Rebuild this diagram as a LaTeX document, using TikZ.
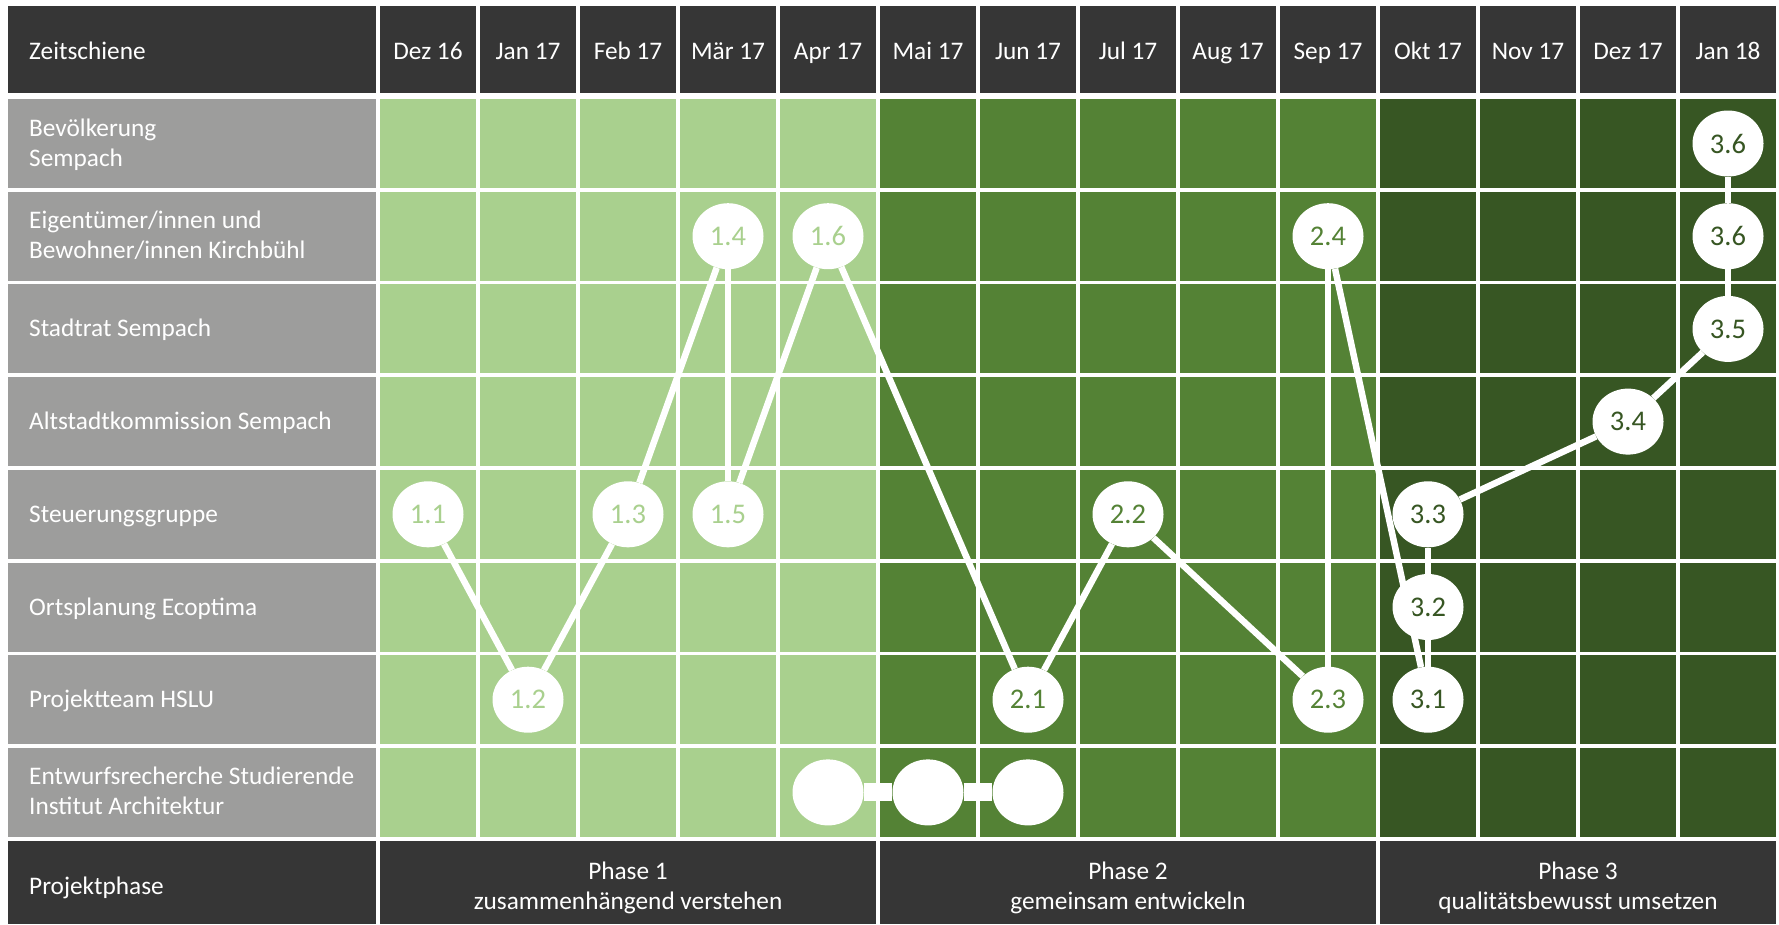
\documentclass[tikz,border=0pt]{standalone}
\usepackage{fontspec}
\setmainfont{Carlito}
\usetikzlibrary{shapes.geometric}
\definecolor{hdr}{HTML}{363636}
\definecolor{lbl}{HTML}{9D9D9C}
\definecolor{gA}{HTML}{A9D08E}
\definecolor{gB}{HTML}{548235}
\definecolor{gC}{HTML}{375623}
\tikzset{
  txt/.style={text=white, inner sep=0pt, anchor=base, font=\fontsize{25.3}{30}\selectfont},
  rowlabel/.style={txt, anchor=base west},
  evt/.style={ellipse, fill=white, minimum width=71pt, minimum height=66pt, inner sep=0pt, font=\fontsize{28.5}{28.5}\selectfont},
  conn/.style={draw=white, line width=6.5pt},
  bar/.style={draw=white, line width=18pt}
}
\begin{document}
\begin{tikzpicture}[x=1pt,y=-1pt]
\useasboundingbox[fill=white] (0,0) rectangle (1779,924);
% header
\fill[hdr] (8,6) rectangle (376,93);
\foreach \i in {0,...,13} \fill[hdr] ({380+100*\i},6) rectangle ({476+100*\i},93);
% rows
\foreach \k in {0,...,7} {
  \fill[lbl] (8,{99+92.7*\k}) rectangle (376,{188+92.7*\k});
  \foreach \i in {0,...,4} \fill[gA] ({380+100*\i},{99+92.7*\k}) rectangle ({476+100*\i},{188+92.7*\k});
  \foreach \i in {5,...,9} \fill[gB] ({380+100*\i},{99+92.7*\k}) rectangle ({476+100*\i},{188+92.7*\k});
  \foreach \i in {10,...,13} \fill[gC] ({380+100*\i},{99+92.7*\k}) rectangle ({476+100*\i},{188+92.7*\k});
}
% phase row
\fill[hdr] (8,841) rectangle (376,924);
\fill[hdr] (380,841) rectangle (876,924);
\fill[hdr] (880,841) rectangle (1376,924);
\fill[hdr] (1380,841) rectangle (1776,924);
% header texts
\node[rowlabel] (zeit) at (29,59) {Zeitschiene};
\foreach \m [count=\j from 0] in {Dez 16,Jan 17,Feb 17,Mär 17,Apr 17,Mai 17,Jun 17,Jul 17,Aug 17,Sep 17,Okt 17,Nov 17,Dez 17,Jan 18}
  \node[txt] (m\j) at ({428+100*\j},59) {\m};
% row labels (single line: baseline = centre + 8; two lines: centre - 7.5 and + 22.5)
\node[rowlabel] (r0a) at (29,{136+92.7*0}) {Bevölkerung};
\node[rowlabel] (r0b) at (29,{166+92.7*0}) {Sempach};
\node[rowlabel] (r1a) at (29,{136+92.7*1}) {Eigentümer/innen und};
\node[rowlabel] (r1b) at (29,{166+92.7*1}) {Bewohner/innen Kirchbühl};
\node[rowlabel] (r2) at (29,{151.5+92.7*2}) {Stadtrat Sempach};
\node[rowlabel] (r3) at (29,{151.5+92.7*3}) {Altstadtkommission Sempach};
\node[rowlabel] (r4) at (29,{151.5+92.7*4}) {Steuerungsgruppe};
\node[rowlabel] (r5) at (29,{151.5+92.7*5}) {Ortsplanung Ecoptima};
\node[rowlabel] (r6) at (29,{151.5+92.7*6}) {Projektteam HSLU};
\node[rowlabel] (r7a) at (29,{136+92.7*7}) {Entwurfsrecherche Studierende};
\node[rowlabel] (r7b) at (29,{166+92.7*7}) {Institut Architektur};
% phase labels
\node[rowlabel] (pp) at (29,894) {Projektphase};
\node[txt] (p1a) at (628,879) {Phase 1};
\node[txt] (p1b) at (628,909) {zusammenhängend verstehen};
\node[txt] (p2a) at (1128,879) {Phase 2};
\node[txt] (p2b) at (1128,909) {gemeinsam entwickeln};
\node[txt] (p3a) at (1578,879) {Phase 3};
\node[txt] (p3b) at (1578,909) {qualitätsbewusst umsetzen};
% event nodes
\node[evt, text=gA] (a11) at ({428+100*0},{143.5+92.7*4}) {1.1};
\node[evt, text=gA] (a12) at ({428+100*1},{143.5+92.7*6}) {1.2};
\node[evt, text=gA] (a13) at ({428+100*2},{143.5+92.7*4}) {1.3};
\node[evt, text=gA] (a14) at ({428+100*3},{143.5+92.7*1}) {1.4};
\node[evt, text=gA] (a15) at ({428+100*3},{143.5+92.7*4}) {1.5};
\node[evt, text=gA] (a16) at ({428+100*4},{143.5+92.7*1}) {1.6};
\node[evt, text=gB] (a21) at ({428+100*6},{143.5+92.7*6}) {2.1};
\node[evt, text=gB] (a22) at ({428+100*7},{143.5+92.7*4}) {2.2};
\node[evt, text=gB] (a23) at ({428+100*9},{143.5+92.7*6}) {2.3};
\node[evt, text=gB] (a24) at ({428+100*9},{143.5+92.7*1}) {2.4};
\node[evt, text=gC] (a31) at ({428+100*10},{143.5+92.7*6}) {3.1};
\node[evt, text=gC] (a32) at ({428+100*10},{143.5+92.7*5}) {3.2};
\node[evt, text=gC] (a33) at ({428+100*10},{143.5+92.7*4}) {3.3};
\node[evt, text=gC] (a34) at ({428+100*12},{143.5+92.7*3}) {3.4};
\node[evt, text=gC] (a35) at ({428+100*13},{143.5+92.7*2}) {3.5};
\node[evt, text=gC] (a36b) at ({428+100*13},{143.5+92.7*1}) {3.6};
\node[evt, text=gC] (a36a) at ({428+100*13},{143.5+92.7*0}) {3.6};
\node[evt] (b1) at ({428+100*4},{143.5+92.7*7}) {};
\node[evt] (b2) at ({428+100*5},{143.5+92.7*7}) {};
\node[evt] (b3) at ({428+100*6},{143.5+92.7*7}) {};
% connectors
\draw[conn] (a11) -- (a12);
\draw[conn] (a12) -- (a13);
\draw[conn] (a13) -- (a14);
\draw[conn] (a14) -- (a15);
\draw[conn] (a15) -- (a16);
\draw[conn] (a16) -- (a21);
\draw[conn] (a21) -- (a22);
\draw[conn] (a22) -- (a23);
\draw[conn] (a23) -- (a24);
\draw[conn] (a24) -- (a31);
\draw[conn] (a31) -- (a32);
\draw[conn] (a32) -- (a33);
\draw[conn] (a33) -- (a34);
\draw[conn] (a34) -- (a35);
\draw[conn] (a35) -- (a36b);
\draw[conn] (a36b) -- (a36a);
\draw[bar] (b1) -- (b2);
\draw[bar] (b2) -- (b3);
\end{tikzpicture}
\end{document}
